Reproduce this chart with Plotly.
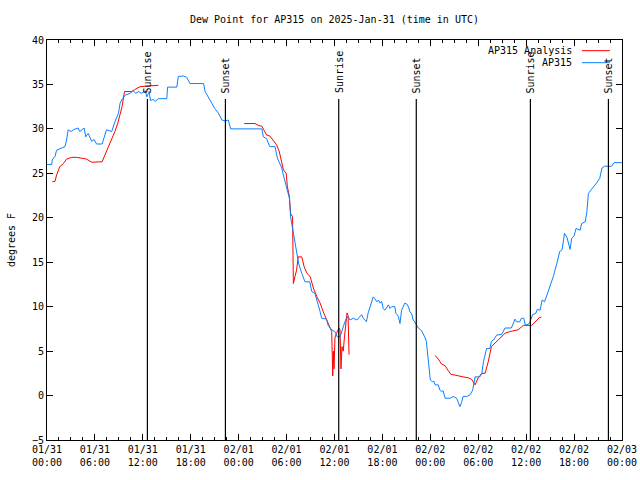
import datetime as dt
import plotly.graph_objects as go

BASE = dt.datetime(2025, 1, 31, 0, 0)

# AP315 observations: hours since 2025-01-31 00:00 UTC, dew point (F)
obs_hours = [0.0, 0.6, 0.65, 1.0, 1.2, 1.75, 2.25, 2.45, 2.65, 3.0, 3.3, 3.9, 4.1, 4.65, 4.85, 5.15, 5.6, 5.9,
             6.2, 6.9, 7.25, 7.45, 8.1, 8.3, 8.5, 8.95, 9.15, 9.45, 9.8, 10.4, 10.8, 11.1, 11.45, 11.85, 12.3,
             12.5, 12.8, 12.95, 13.3, 13.55, 13.95, 15.0, 15.1, 16.25, 16.45, 17.1, 17.5, 17.9, 19.6, 19.8,
             20.2, 20.6, 21.0, 21.45, 21.9, 22.3, 22.7, 23.0, 26.9, 27.1, 27.5, 27.9, 28.55, 28.85, 29.4,
             29.6, 29.8, 30.0, 30.35, 30.5, 30.85, 31.2, 31.5, 31.9, 32.3, 32.9, 33.15, 33.55, 33.95, 34.15,
             34.4, 35.0, 35.2, 35.65, 36.05, 36.35, 36.7, 36.9, 37.1, 37.3, 37.5, 37.7, 37.95, 38.35, 38.8,
             39.2, 39.4, 39.6, 40.0, 40.2, 40.45, 40.65, 40.85, 41.05, 41.3, 41.5, 41.7, 41.9, 42.1, 42.3,
             42.55, 42.75, 42.95, 43.15, 43.55, 43.7, 44.0, 44.2, 44.4, 44.6, 44.8, 45.05, 45.25, 45.45,
             45.65, 45.85, 46.05, 46.3, 46.5, 46.9, 47.1, 47.3, 47.5, 47.7, 47.9, 48.0, 48.25, 48.45, 48.6,
             49.0, 49.2, 49.4, 49.6, 49.85, 50.5, 50.85, 51.3, 51.5, 51.7, 51.9, 52.1, 52.55, 52.95, 53.3,
             53.4, 53.6, 54.2, 54.45, 54.65, 54.85, 55.05, 55.45, 55.65, 55.9, 56.3, 56.95, 57.35, 58.15,
             58.4, 58.6, 58.8, 59.2, 59.4, 59.7, 59.9, 60.4, 60.8, 61.2, 61.4, 61.75, 62.0, 62.3, 62.6, 63.0,
             63.4, 63.85, 64.2, 64.5, 64.8, 65.1, 65.5, 65.7, 66.0, 66.25, 66.75, 66.95, 67.4, 67.6, 67.8,
             68.1, 68.4, 68.8, 69.2, 69.5, 69.8, 70.7, 71.0, 72.0]
obs_dewpt = [26.0, 26.0, 26.5, 26.9, 27.6, 27.8, 28.0, 28.75, 29.9, 29.7, 29.9, 30.1, 29.7, 30.1, 29.1, 29.5, 28.6,
             28.8, 28.3, 28.3, 29.3, 29.9, 29.7, 30.25, 30.8, 31.75, 32.9, 33.4, 33.8, 34.0, 34.3, 34.0, 34.2,
             34.0, 34.3, 33.6, 34.2, 33.2, 33.3, 33.1, 33.4, 33.4, 34.7, 34.7, 35.9, 35.95, 35.8, 35.1, 35.1,
             34.2, 33.6, 33.05, 32.3, 31.8, 31.0, 30.9, 31.0, 30.0, 30.0, 29.1, 28.9, 28.0, 28.0, 26.7, 25.6,
             24.8, 24.1, 23.1, 22.2, 20.1, 18.25, 16.4, 14.9, 13.75, 12.8, 12.8, 11.7, 11.5, 10.4, 9.6, 8.7,
             8.6, 7.9, 7.4, 7.2, 6.6, 6.6, 7.2, 7.6, 8.3, 8.7, 8.9, 8.5, 8.7, 8.5, 8.9, 9.1, 8.7, 8.3, 9.25,
             10.0, 10.4, 11.1, 10.9, 10.55, 10.75, 10.4, 10.6, 9.8, 9.6, 10.0, 10.2, 9.8, 10.0, 10.0, 9.25,
             8.9, 8.1, 9.6, 10.0, 10.4, 10.3, 10.0, 9.4, 9.25, 8.5, 8.3, 7.9, 7.6, 7.3, 7.0, 6.6, 6.1, 4.5,
             2.5, 1.75, 1.55, 1.6, 1.2, 1.2, 0.6, 0.45, 0.55, -0.3, -0.3, -0.1, -0.3, -0.9, -1.25, -0.8, -0.1,
             -0.1, 0.05, 0.6, 1.2, 2.1, 2.1, 2.5, 3.8, 4.6, 5.3, 5.3, 6.1, 6.25, 6.8, 6.9, 7.6, 7.6, 8.1, 8.6,
             8.3, 8.3, 8.7, 8.7, 7.9, 8.1, 9.1, 9.25, 9.7, 9.6, 10.75, 10.55, 11.3, 12.25, 13.4, 14.9, 16.2,
             16.4, 18.25, 17.8, 16.45, 17.7, 17.95, 18.8, 18.6, 19.35, 19.55, 20.7, 22.75, 23.1, 23.5, 23.9,
             24.4, 25.6, 25.8, 25.8, 26.2, 26.2]

# AP315 Analysis (None = gap)
ana_hours = [0.67, 1.0, 1.2, 1.6, 2.05, 2.45, 3.1, 3.7, 4.35, 4.95, 5.6, 6.4, 6.9, 7.25, 7.65, 8.1, 8.5, 8.85,
             9.15, 9.4, 9.7, 10.6, 10.95, 11.65, 12.3, 13.55, 13.95, 14.0,
             24.7, 26.05, 26.45, 26.9, 27.2, 27.5, 27.9, 28.35, 28.75, 29.1, 29.4, 29.6, 29.95, 30.1, 30.35,
             30.5, 30.75, 30.85, 31.05, 31.25, 31.45, 31.9, 32.2, 32.55, 32.95, 33.35, 33.8, 34.2, 34.6, 35.0,
             35.44, 35.65, 35.78, 35.85, 35.94, 36.06, 36.25, 36.44, 36.56, 36.69, 36.81, 36.94, 37.1, 37.25,
             37.4, 37.57, 37.7, 37.82, 38.0,
             48.6, 49.0, 49.4, 49.85, 50.25, 50.55, 51.1, 51.5, 52.1, 52.75, 53.2, 53.6, 54.0, 54.45, 54.85,
             55.25, 55.45, 55.65, 56.1, 56.5, 56.95, 57.35, 57.95, 58.6, 59.0, 59.45, 59.65, 60.7, 60.9, 61.3,
             61.7, 61.9]
ana_dewpt = [24.05, 24.1, 24.8, 25.75, 26.1, 26.6, 26.8, 26.8, 26.7, 26.6, 26.25, 26.25, 26.3, 27.05, 27.9,
             28.75, 29.7, 30.6, 31.55, 32.5, 34.2, 34.2, 34.4, 34.75, 34.8, 34.9, 34.9, None,
             30.6, 30.6, 30.4, 30.3, 29.8, 29.3, 29.2, 28.6, 28.2, 27.4, 26.3, 25.4, 25.0, 23.5, 22.4, 20.5,
             20.1, 12.6, 13.4, 14.1, 15.6, 15.6, 14.5, 13.75, 13.4, 12.1, 11.1, 10.4, 9.4, 8.5, 7.6, 7.2, 2.2,
             5.0, 3.0, 6.5, 7.0, 7.5, 7.6, 7.4, 3.0, 5.5, 5.0, 6.6, 8.3, 9.3, 9.0, 4.6, None,
             4.5, 4.1, 3.55, 3.35, 2.8, 2.4, 2.3, 2.2, 2.1, 2.0, 1.8, 1.2, 2.0, 2.5, 2.5, 3.8, 4.75, 5.5, 5.9,
             6.25, 6.6, 7.0, 7.2, 7.3, 7.4, 7.75, 7.9, 7.9, 8.1, 8.5, 8.8, 8.8]

sun_hours = [12.57, 22.34, 36.53, 46.24, 60.53, 70.3]
sun_labels = ["Sunrise", "Sunset", "Sunrise", "Sunset", "Sunrise", "Sunset"]

title_text = "Dew Point for AP315 on 2025-Jan-31 (time in UTC)"
y_label = "degrees F"
legend_names = ["AP315 Analysis", "AP315"]
colors = ["#ff0000", "#0a80ff"]


def to_time(hours):
    return [BASE + dt.timedelta(hours=h) for h in hours]


FONT = "DejaVu Sans Mono"
FIG_W, FIG_H = 640, 480

fig = go.Figure()
fig.add_trace(go.Scatter(x=to_time(ana_hours), y=ana_dewpt, mode="lines", name=legend_names[0],
                         line=dict(color=colors[0], width=1), connectgaps=False, showlegend=False))
fig.add_trace(go.Scatter(x=to_time(obs_hours), y=obs_dewpt, mode="lines", name=legend_names[1],
                         line=dict(color=colors[1], width=1), showlegend=False))

shapes = []
annotations = []
for h, lab in zip(sun_hours, sun_labels):
    t = BASE + dt.timedelta(hours=h)
    shapes.append(dict(type="line", xref="x", yref="paper", x0=t, x1=t, y0=0, y1=0.8525,
                       line=dict(color="black", width=1.2)))
    annotations.append(dict(text=lab, x=t, xref="x", y=0.862, yref="paper", textangle=-90,
                            xanchor="center", yanchor="bottom", showarrow=False,
                            font=dict(family=FONT, size=10, color="black")))

# gnuplot-style key: text then sample line on the right
for i, (name, col) in enumerate(zip(legend_names, colors)):
    yp = 0.9733 - i * 0.03
    annotations.append(dict(text=name, x=0.9165, xref="paper", y=yp, yref="paper",
                            xanchor="right", yanchor="middle", showarrow=False,
                            font=dict(family=FONT, size=10, color="black")))
    shapes.append(dict(type="line", xref="paper", yref="paper", x0=0.9304, x1=0.9791, y0=yp, y1=yp,
                       line=dict(color=col, width=1)))

fig.update_layout(
    width=FIG_W, height=FIG_H,
    margin=dict(l=47, r=18, t=40, b=40, autoexpand=False),
    paper_bgcolor="white", plot_bgcolor="white",
    font=dict(family=FONT, size=10, color="black"),
    title=dict(text=title_text, x=0.5, xref="paper", y=1 - 19 / FIG_H, yref="container",
               xanchor="center", yanchor="middle", font=dict(family=FONT, size=10)),
    shapes=shapes, annotations=annotations,
    showlegend=False,
)
fig.update_xaxes(
    type="date", automargin=False,
    range=[BASE, BASE + dt.timedelta(hours=72)],
    tickformat="%m/%d<br>%H:%M", dtick=6 * 3600 * 1000, tick0=BASE,
    ticks="inside", ticklen=6, tickcolor="black", showline=True, linecolor="black", linewidth=1,
    mirror="ticks", showgrid=False, zeroline=False,
    minor=dict(dtick=1.5 * 3600 * 1000, ticks="inside", ticklen=3, tickcolor="black", showgrid=False),
    tickfont=dict(family=FONT, size=10),
)
fig.update_yaxes(
    range=[-5, 40], dtick=5, tick0=0, automargin=False,
    ticks="inside", ticklen=6, tickcolor="black", showline=True, linecolor="black", linewidth=1,
    mirror="ticks", showgrid=False, zeroline=False,
    title=dict(text=y_label, standoff=14, font=dict(family=FONT, size=10)),
    tickfont=dict(family=FONT, size=10),
)

# remove the browser's default page margin so the 640x480 figure fills the window exactly
fig.write_html("out.html", config={"displayModeBar": False},
               post_script="document.body.style.margin='0';document.body.style.overflow='hidden';")
